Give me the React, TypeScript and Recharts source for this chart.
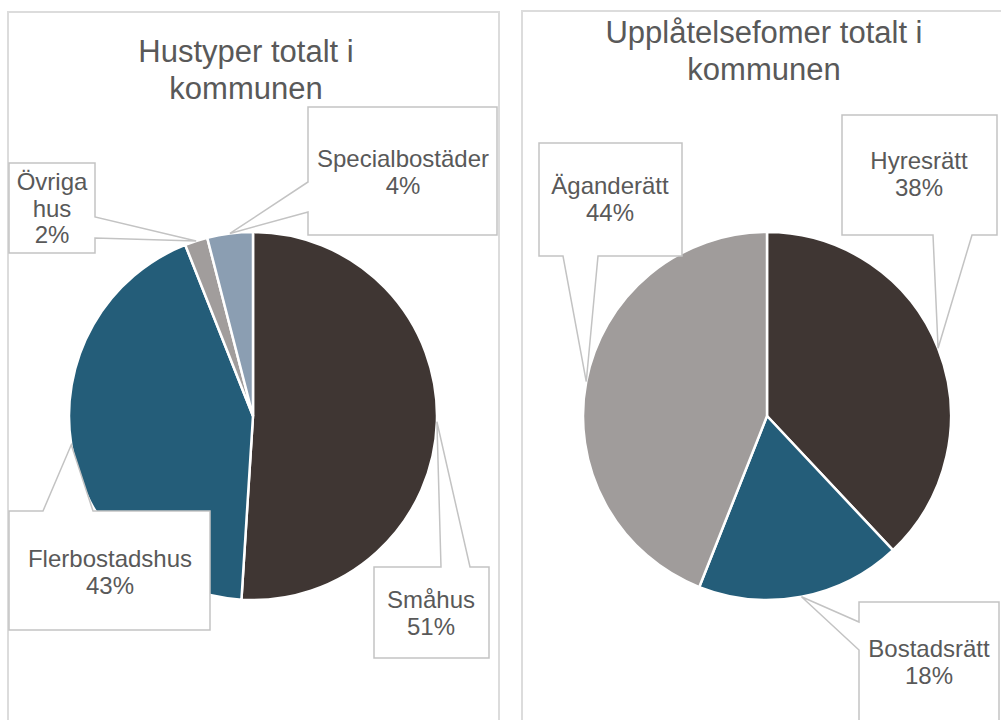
import React from "react";
import { PieChart, Pie, Cell } from "recharts";

// Hustyper
const HOUSE_NAMES = ["Småhus", "Flerbostadshus", "Övriga hus", "Specialbostäder"];
const HOUSE_VALUES = [51, 43, 2, 4];
const HOUSE_COLORS = ["#3f3633", "#245d79", "#a19d9c", "#8b9eb2"];

// Upplåtelseformer
const TENURE_NAMES = ["Hyresrätt", "Bostadsrätt", "Äganderätt"];
const TENURE_VALUES = [38, 18, 44];
const TENURE_COLORS = ["#3f3633", "#245d79", "#a09c9b"];

const TEXT = "#595959";
const FONT = '"Liberation Sans", Arial, sans-serif';

type Callout = {
  x: number;
  y: number;
  w: number;
  h: number;
  side: "top" | "bottom" | "left" | "right";
  a1: number;
  a2: number;
  tx: number;
  ty: number;
  wrap?: boolean;
};

// callout boxes (page coordinates), same order as the data
const HOUSE_BOXES: Callout[] = [
  { x: 374, y: 567, w: 115, h: 91, side: "top", a1: 441, a2: 470, tx: 431, ty: 608 },
  { x: 9, y: 511, w: 201, h: 119, side: "top", a1: 43, a2: 93, tx: 110, ty: 567 },
  { x: 9, y: 163, w: 86, h: 90, side: "right", a1: 217, a2: 238, tx: 52, ty: 190, wrap: true },
  { x: 308, y: 107, w: 189, h: 128, side: "left", a1: 182, a2: 212, tx: 403, ty: 167 },
];

const TENURE_BOXES: Callout[] = [
  { x: 842, y: 115, w: 155, h: 120, side: "bottom", a1: 933, a2: 972, tx: 919, ty: 169 },
  { x: 859, y: 602, w: 140, h: 130, side: "left", a1: 622, a2: 650, tx: 929, ty: 657 },
  { x: 539, y: 143, w: 143, h: 113, side: "bottom", a1: 563, a2: 598, tx: 610, ty: 194 },
];

const RADIAN = Math.PI / 180;

function calloutPath(b: Callout, px: number, py: number) {
  const { x, y, w, h, a1, a2 } = b;
  const r = x + w;
  const btm = y + h;
  const tip = `L${px},${py}`;
  switch (b.side) {
    case "top":
      return `M${x},${y} L${a1},${y} ${tip} L${a2},${y} L${r},${y} L${r},${btm} L${x},${btm} Z`;
    case "bottom":
      return `M${x},${y} L${r},${y} L${r},${btm} L${a2},${btm} ${tip} L${a1},${btm} L${x},${btm} Z`;
    case "left":
      return `M${x},${y} L${r},${y} L${r},${btm} L${x},${btm} L${x},${a2} ${tip} L${x},${a1} Z`;
    default:
      return `M${x},${y} L${r},${y} L${r},${a1} ${tip} L${r},${a2} L${r},${btm} L${x},${btm} Z`;
  }
}

const makeLabel = (boxes: Callout[]) => (props: any) => {
  const { cx, cy, midAngle, outerRadius, index, name, percent } = props;
  const b = boxes[index];
  const px = cx + outerRadius * Math.cos(-midAngle * RADIAN);
  const py = cy + outerRadius * Math.sin(-midAngle * RADIAN);
  const lines = b.wrap ? String(name).split(" ") : [String(name)];
  lines.push(`${Math.round(percent * 100)}%`);
  return (
    <g key={`callout-${index}`}>
      <path d={calloutPath(b, px, py)} fill="#ffffff" stroke="#c3c3c3" strokeWidth={1.5} />
      {lines.map((t, i) => (
        <text
          key={i}
          x={b.tx}
          y={b.ty + i * 26.5}
          textAnchor="middle"
          fill={TEXT}
          fontSize={24}
          fontFamily={FONT}
        >
          {t}
        </text>
      ))}
    </g>
  );
};

export default function App() {
  const houseData = HOUSE_NAMES.map((name, i) => ({ name, value: HOUSE_VALUES[i] }));
  const tenureData = TENURE_NAMES.map((name, i) => ({ name, value: TENURE_VALUES[i] }));

  const panel: React.CSSProperties = {
    position: "absolute",
    top: 10,
    height: 740,
    border: "2px solid #dcdcdc",
    boxSizing: "border-box",
    background: "#fff",
  };
  const title: React.CSSProperties = {
    position: "absolute",
    width: 420,
    textAlign: "center",
    fontFamily: FONT,
    fontSize: 31,
    lineHeight: "37px",
    color: TEXT,
  };

  return (
    <div
      style={{
        position: "absolute",
        left: 0,
        top: 0,
        width: 1001,
        height: 720,
        overflow: "hidden",
        background: "#fff",
      }}
    >
      <div style={{ ...panel, left: 7, top: 11, width: 493 }} />
      <div style={{ ...panel, left: 521, width: 500 }} />
      <div style={{ ...title, left: 246 - 210, top: 33 }}>
        Hustyper totalt i<br />kommunen
      </div>
      <div style={{ ...title, left: 764 - 210, top: 14 }}>
        Upplåtelsefomer totalt i<br />kommunen
      </div>
      <div style={{ position: "absolute", left: 0, top: 0 }}>
        <PieChart width={1001} height={720} margin={{ top: 0, right: 0, bottom: 0, left: 0 }}>
          <Pie
            data={houseData}
            dataKey="value"
            nameKey="name"
            cx={253}
            cy={416}
            outerRadius={184}
            startAngle={90}
            endAngle={-270}
            stroke="#ffffff"
            strokeWidth={2.5}
            labelLine={false}
            label={makeLabel(HOUSE_BOXES)}
            isAnimationActive={false}
          >
            {houseData.map((_, i) => (
              <Cell key={`h-${i}`} fill={HOUSE_COLORS[i]} />
            ))}
          </Pie>
          <Pie
            data={tenureData}
            dataKey="value"
            nameKey="name"
            cx={767}
            cy={416}
            outerRadius={184}
            startAngle={90}
            endAngle={-270}
            stroke="#ffffff"
            strokeWidth={2.5}
            labelLine={false}
            label={makeLabel(TENURE_BOXES)}
            isAnimationActive={false}
          >
            {tenureData.map((_, i) => (
              <Cell key={`t-${i}`} fill={TENURE_COLORS[i]} />
            ))}
          </Pie>
        </PieChart>
      </div>
    </div>
  );
}
